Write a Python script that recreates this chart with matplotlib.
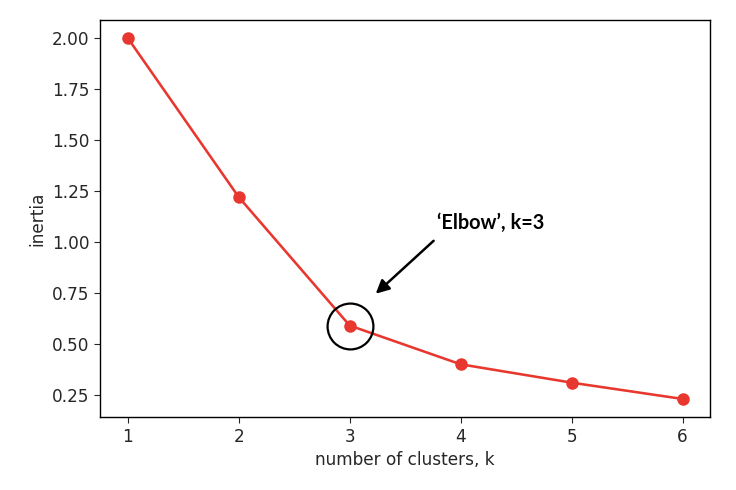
import matplotlib
matplotlib.use("Agg")
from matplotlib import pyplot as plt

# elbow curve values
ks = [1, 2, 3, 4, 5, 6]
inertia = [2.00, 1.22, 0.59, 0.40, 0.31, 0.23]
elbow_k = 3
label = "\u2018Elbow\u2019, k=3"

plt.rcParams["font.size"] = 12.2
plt.rcParams["xtick.major.size"] = 4.3
plt.rcParams["ytick.major.size"] = 4.3
plt.rcParams["axes.linewidth"] = 1.0
text_col = "#262626"

fig = plt.figure(figsize=(7.36, 4.9), dpi=100)
ax = fig.add_axes([0.136, 0.149, 0.829, 0.810])

ax.plot(ks, inertia, "-o", color="#e8372f", linewidth=1.85, markersize=8)

# circle round the elbow point
ei = ks.index(elbow_k)
ax.plot(ks[ei], inertia[ei], "o", mfc="none", mec="black", mew=1.6, markersize=33)

ax.annotate("", xy=(3.216, 0.737), xytext=(3.775, 1.015),
            arrowprops=dict(arrowstyle="-|>", color="black", lw=1.8, mutation_scale=20))
ax.text(3.79, 1.092, label, fontsize=14.3, fontweight="bold", family=["Lato", "DejaVu Sans"],
        va="center", ha="left", color="black")

ax.set_xticks(ks)
ax.set_yticks([0.25, 0.5, 0.75, 1.0, 1.25, 1.5, 1.75, 2.0])
ax.set_yticklabels(["0.25", "0.50", "0.75", "1.00", "1.25", "1.50", "1.75", "2.00"])
ax.tick_params(colors=text_col, labelcolor=text_col)
ax.set_xlabel("number of clusters, k", color=text_col)
ax.set_ylabel("inertia", color=text_col)

fig.savefig("out.png", dpi=100)
